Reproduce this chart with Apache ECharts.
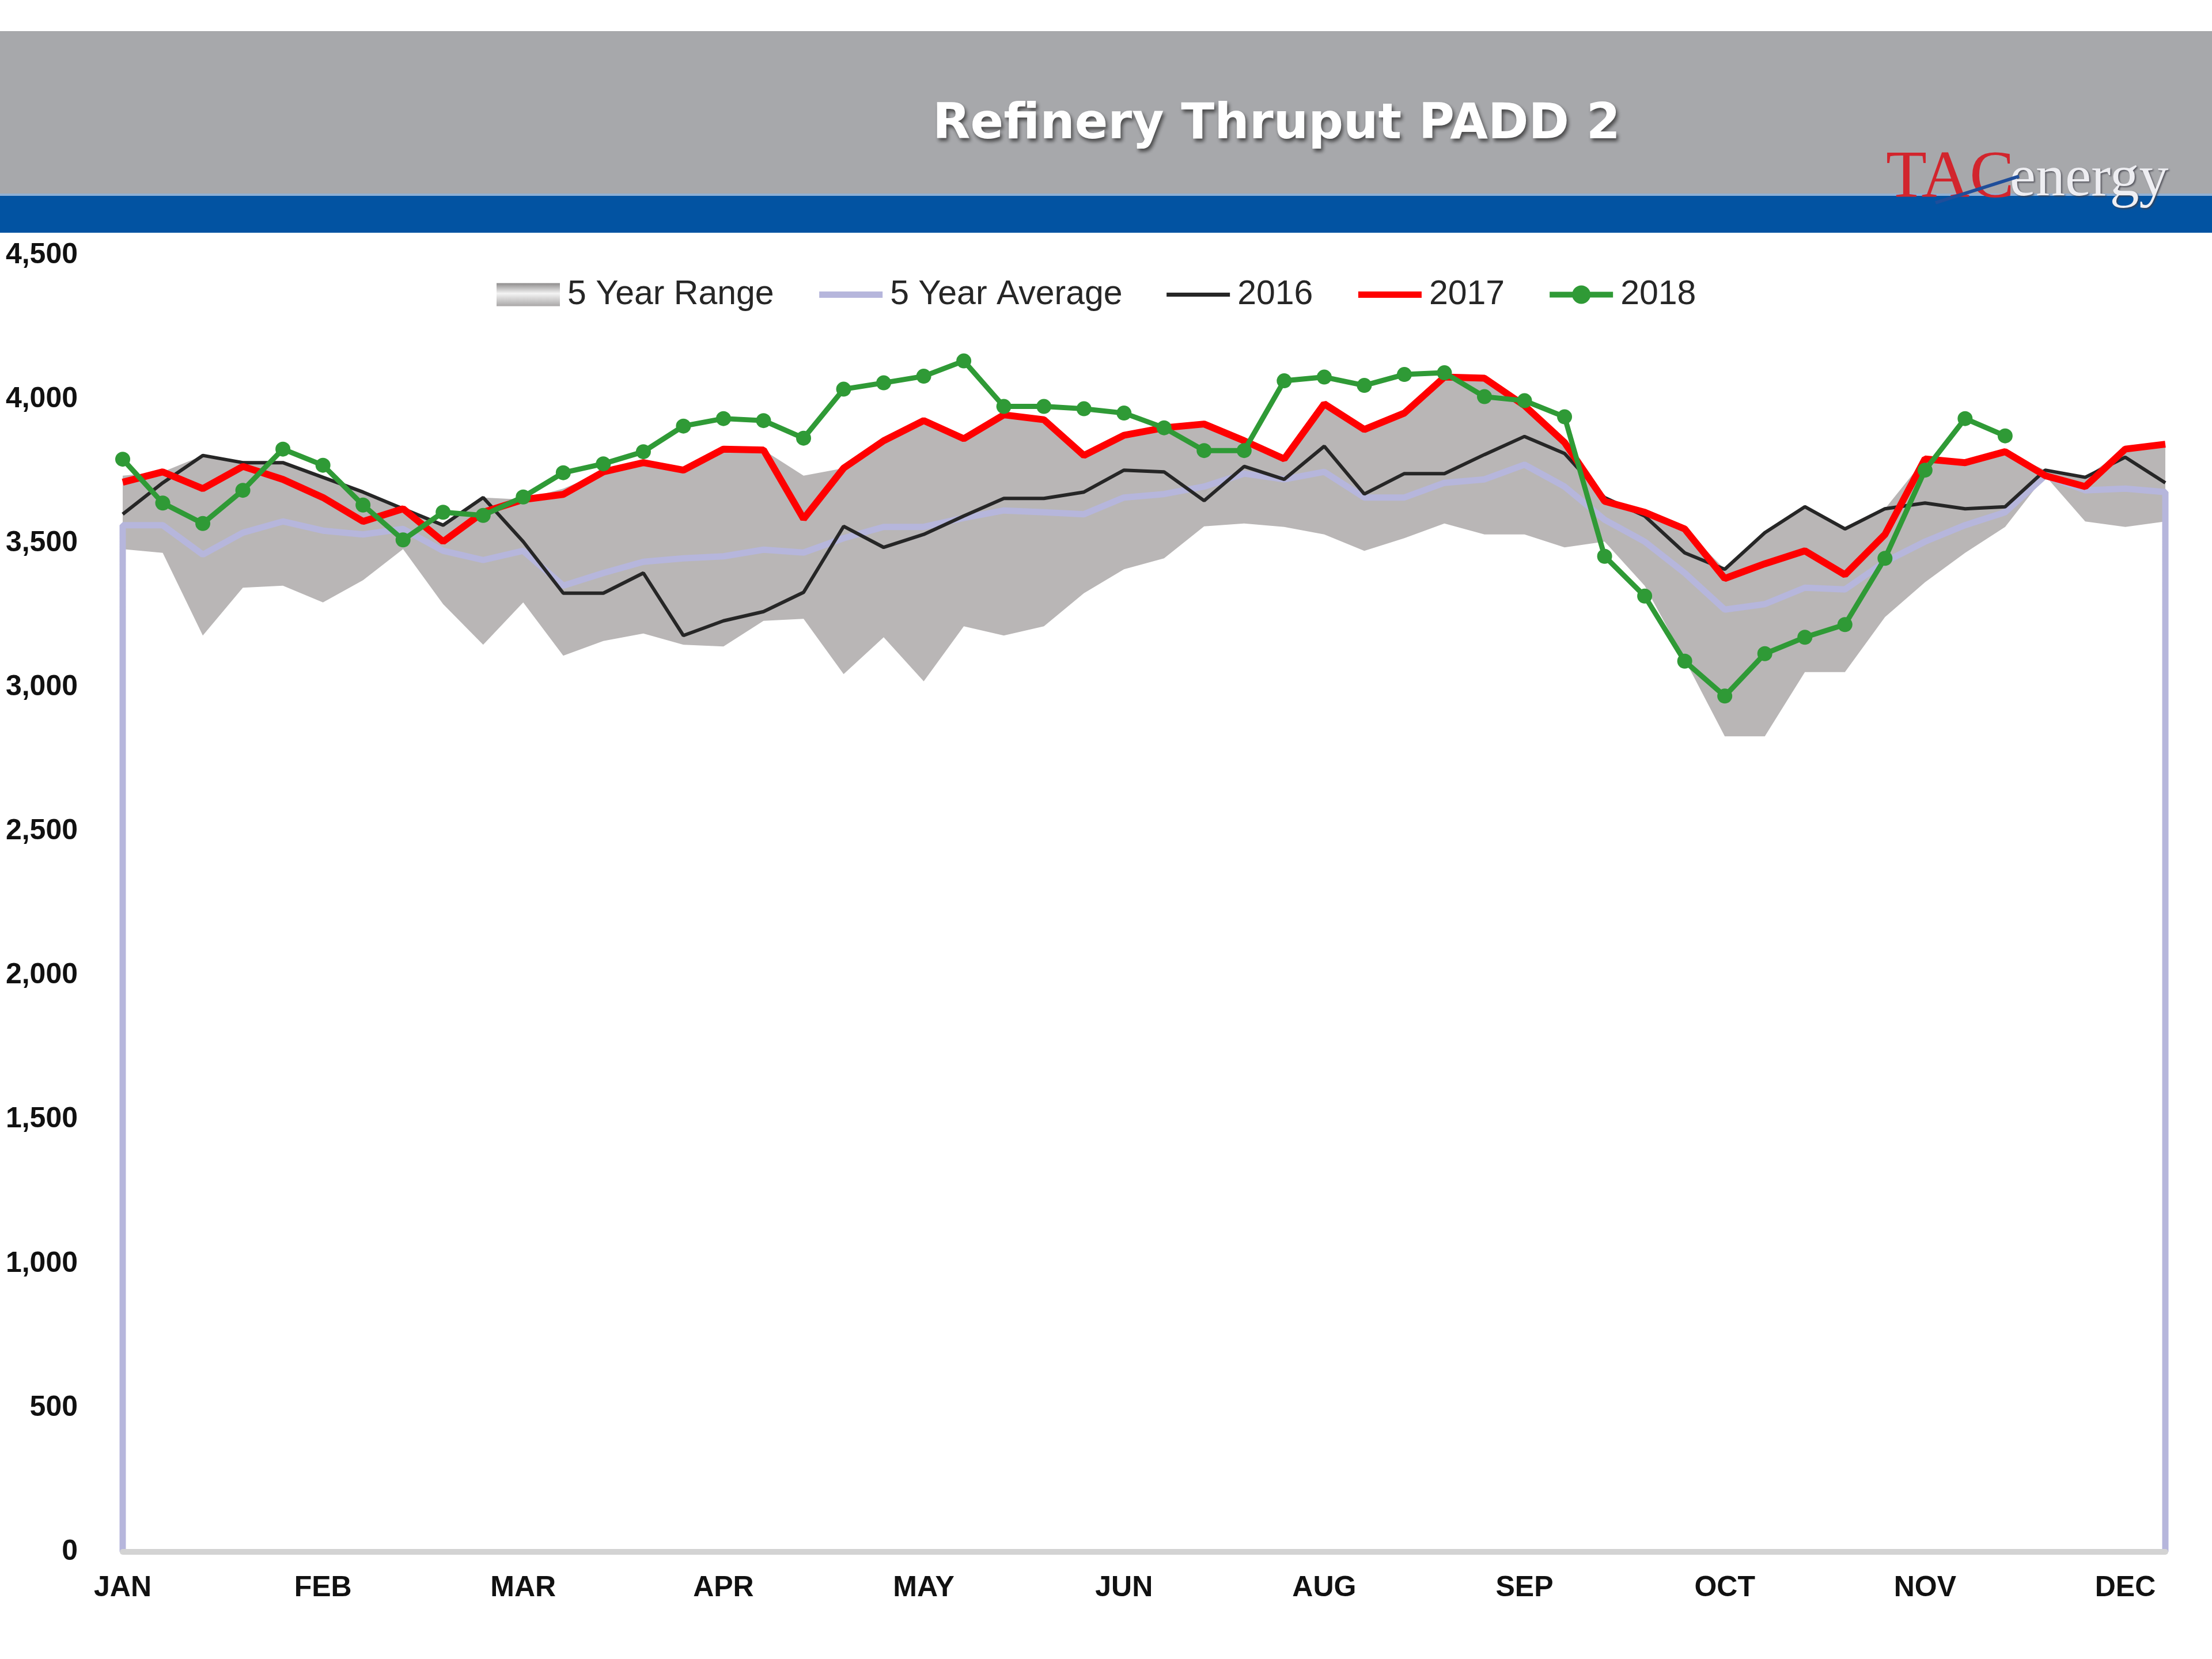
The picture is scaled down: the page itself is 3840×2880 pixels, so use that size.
<!DOCTYPE html>
<html>
<head>
<meta charset="utf-8">
<script src="https://cdn.jsdelivr.net/npm/echarts@6/dist/echarts.min.js"></script>
<style>
html,body{margin:0;padding:0;background:#fff;}
#c{width:3840px;height:2880px;}
</style>
</head>
<body>
<div id="c"></div>
<script>
// ---- data (weekly, index 0..51) ----
const monthLabels = ['JAN','FEB','MAR','APR','MAY','JUN','AUG','SEP','OCT','NOV','DEC'];
const yTicks = [0,500,1000,1500,2000,2500,3000,3500,4000,4500];

const rangeLow = [3480,3467,3180,3346,3353,3295,3372,3480,3289,3148,3295,3110,3161,3187,3148,3142,3231,3238,3046,3174,3021,3212,3180,3212,3327,3410,3448,3559,3569,3557,3531,3474,3518,3569,3531,3531,3486,3506,3353,3097,2830,2830,3053,3053,3244,3365,3467,3557,3735,3576,3557,3576];
const rangeHigh = [3735,3748,3805,3786,3780,3729,3678,3627,3570,3659,3652,3690,3748,3780,3754,3827,3824,3735,3761,3856,3926,3863,3946,3929,3805,3875,3901,3914,3856,3793,3984,3895,3952,4077,4073,3978,3850,3659,3608,3550,3410,3537,3627,3550,3620,3793,3780,3818,3754,3729,3827,3844];
const avg5 = [3563,3563,3461,3537,3576,3544,3531,3550,3474,3442,3474,3353,3397,3436,3448,3455,3478,3468,3518,3557,3557,3588,3614,3608,3601,3659,3671,3697,3742,3722,3748,3659,3659,3710,3722,3773,3697,3582,3506,3397,3270,3289,3346,3340,3436,3506,3563,3608,3735,3684,3690,3678];
const y2016 = [3601,3710,3805,3780,3780,3729,3678,3620,3563,3659,3506,3327,3327,3397,3180,3231,3263,3330,3559,3486,3531,3595,3656,3656,3678,3754,3748,3648,3767,3722,3837,3671,3742,3742,3808,3871,3812,3659,3595,3467,3410,3537,3627,3550,3620,3640,3620,3627,3754,3729,3799,3710];
const y2017 = [3712,3748,3690,3767,3722,3659,3576,3620,3506,3608,3652,3670,3748,3780,3754,3827,3824,3585,3761,3856,3926,3863,3946,3929,3805,3875,3901,3914,3856,3793,3984,3895,3952,4077,4073,3978,3850,3646,3608,3550,3378,3429,3474,3391,3531,3793,3780,3818,3735,3697,3827,3844];
const y2018 = [3792,3640,3569,3684,3827,3771,3633,3512,3608,3597,3661,3745,3776,3818,3907,3933,3926,3865,4035,4057,4080,4133,3975,3975,3967,3952,3901,3822,3822,4064,4077,4048,4086,4092,4009,3995,3939,3455,3317,3091,2970,3117,3174,3218,3448,3754,3933,3873];

// ---- derived series data ----
const pairs = arr => arr.map((v,i)=>[i,v]);
const lastIdx = avg5.length - 1;
const avgData = [[0,0]].concat(pairs(avg5), [[lastIdx,0]]);

const chart = echarts.init(document.getElementById('c'), null, {renderer:'canvas'});
const FONT = '"Liberation Sans", Arial, sans-serif';
const SERIF = '"Liberation Serif","DejaVu Serif",serif';
const hideSym = {opacity:0, color:'rgba(0,0,0,0)', borderWidth:0};

const C_AVG = '#B6B6DC', C_16 = '#262626', C_17 = '#FF0000', C_18 = '#2F9A36';

const option = {
  animation:false,
  backgroundColor:'#ffffff',
  graphic:[
    {type:'rect', z:-10, shape:{x:0,y:54,width:3840,height:284}, style:{fill:'#A7A8AB'}},
    {type:'rect', z:-9, shape:{x:0,y:338,width:3840,height:66}, style:{fill:'#0253A2'}},
    {type:'rect', z:-8, shape:{x:0,y:336,width:3840,height:4}, style:{fill:'#8FB0D6'}},
    {type:'text', z:10, x:2216, y:218, style:{
      text:'Refinery Thruput PADD 2', fill:'#ffffff',
      fontSize:85, fontWeight:'bold', fontFamily:'"DejaVu Sans", sans-serif',
      align:'center', verticalAlign:'middle',
      textShadowColor:'rgba(40,40,40,0.75)', textShadowBlur:6, textShadowOffsetX:3, textShadowOffsetY:5
    }},
    {type:'text', z:10, x:3274, y:370, style:{
      text:'{a|TAC}{b|energy}',
      align:'left', verticalAlign:'bottom',
      rich:{
        a:{fontFamily:SERIF, fontSize:116, fill:'#D2252D', padding:[0,-8,0,0]},
        b:{fontFamily:SERIF, fontSize:102, fill:'#EEEEF2',
           textShadowColor:'rgba(60,60,70,0.8)', textShadowBlur:3, textShadowOffsetX:2, textShadowOffsetY:2}
      }
    }},
    {type:'line', z:11, shape:{x1:3360,y1:352,x2:3505,y2:306}, style:{stroke:'#1F4E9A', lineWidth:6}}
  ],
  legend:{
    left:857, top:477,
    itemWidth:110, itemHeight:40, itemGap:73,
    textStyle:{fontFamily:FONT, fontSize:59, color:'#262626', padding:[0,0,0,8]},
    data:[
      {name:'5 Year Range', icon:'rect', itemStyle:{color:{type:'linear',x:0,y:0,x2:0,y2:1,colorStops:[{offset:0,color:'#8E8C8C'},{offset:0.45,color:'#F4F4F4'},{offset:1,color:'#A9A7A7'}]}}},
      {name:'5 Year Average', itemStyle:hideSym, lineStyle:{color:C_AVG, width:11}},
      {name:'2016', itemStyle:hideSym, lineStyle:{color:C_16, width:7}},
      {name:'2017', itemStyle:hideSym, lineStyle:{color:C_17, width:11}},
      {name:'2018', lineStyle:{color:C_18, width:10}}
    ]
  },
  grid:{left:213, right:81, top:443, bottom:186, containLabel:false},
  xAxis:{
    type:'value', min:0, max:lastIdx, interval:5, z:10,
    splitLine:{show:false},
    axisTick:{show:false},
    axisLine:{show:true, onZero:true, lineStyle:{color:'#D3D3D3', width:10}},
    axisLabel:{
      margin:38, fontFamily:FONT, fontSize:50, fontWeight:'bold', color:'#111',
      showMaxLabel:false,
      formatter:v => (v % 5 === 0 && monthLabels[v/5]) ? monthLabels[v/5] : ''
    }
  },
  yAxis:{
    type:'value', min:yTicks[0], max:yTicks[yTicks.length-1], interval:500,
    splitLine:{show:false},
    axisLine:{show:false}, axisTick:{show:false},
    axisLabel:{margin:78, fontFamily:FONT, fontSize:50, fontWeight:'bold', color:'#111',
      formatter:v => v.toLocaleString('en-US')}
  },
  series:[
    {name:'5 Year Range', type:'line', data:pairs(rangeHigh), symbol:'none',
     lineStyle:{width:0, opacity:0}, itemStyle:{color:'#B9B6B6'},
     areaStyle:{color:'#B9B6B6', opacity:1}, z:1},
    {name:'rangeLow', type:'line', data:pairs(rangeLow), symbol:'none',
     lineStyle:{width:0, opacity:0}, itemStyle:{color:'#ffffff'},
     areaStyle:{color:'#ffffff', opacity:1}, z:2, silent:true},
    {name:'5 Year Average', type:'line', data:avgData, symbol:'none',
     lineStyle:{color:C_AVG, width:11}, itemStyle:{color:C_AVG}, z:3},
    {name:'2016', type:'line', data:pairs(y2016), symbol:'none',
     lineStyle:{color:C_16, width:6}, itemStyle:{color:C_16}, z:4},
    {name:'2017', type:'line', data:pairs(y2017), symbol:'none',
     lineStyle:{color:C_17, width:12}, itemStyle:{color:C_17}, z:5},
    {name:'2018', type:'line', data:pairs(y2018), symbol:'circle', symbolSize:26, showSymbol:true,
     lineStyle:{color:C_18, width:9}, itemStyle:{color:C_18}, z:6}
  ]
};
chart.setOption(option);
</script>
</body>
</html>
